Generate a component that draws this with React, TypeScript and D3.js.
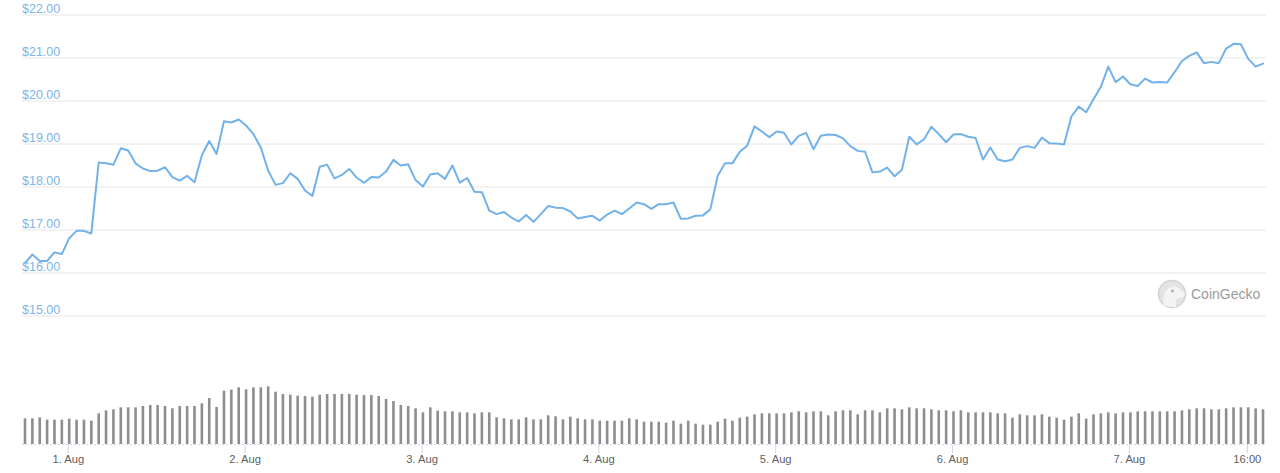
import React from "react";
import * as d3 from "d3";

// Hourly samples starting 31 Jul 18:07 (UTC)
const startTime = Date.UTC(2021, 6, 31, 18, 7, 30);
const HOUR = 3600 * 1000;

const prices = [
  16.23, 16.43, 16.28, 16.28, 16.48, 16.44, 16.81, 16.98, 16.98, 16.92,
  18.57, 18.55, 18.52, 18.90, 18.85, 18.55, 18.43, 18.37, 18.38, 18.46,
  18.23, 18.15, 18.26, 18.11, 18.74, 19.07, 18.77, 19.53, 19.50, 19.57,
  19.43, 19.23, 18.92, 18.38, 18.05, 18.09, 18.32, 18.19, 17.92, 17.79,
  18.47, 18.52, 18.20, 18.28, 18.42, 18.22, 18.10, 18.23, 18.22, 18.36,
  18.63, 18.50, 18.53, 18.16, 18.01, 18.29, 18.32, 18.19, 18.50, 18.10,
  18.21, 17.89, 17.88, 17.45, 17.37, 17.42, 17.29, 17.20, 17.35, 17.19,
  17.37, 17.56, 17.52, 17.51, 17.43, 17.27, 17.30, 17.33, 17.22, 17.36,
  17.45, 17.37, 17.50, 17.64, 17.60, 17.49, 17.60, 17.60, 17.64, 17.26,
  17.27, 17.33, 17.34, 17.48, 18.26, 18.55, 18.55, 18.82, 18.96, 19.41,
  19.29, 19.16, 19.29, 19.26, 18.99, 19.19, 19.26, 18.88, 19.19, 19.22,
  19.21, 19.13, 18.95, 18.84, 18.82, 18.34, 18.36, 18.45, 18.25, 18.40,
  19.17, 18.99, 19.11, 19.40, 19.23, 19.04, 19.22, 19.23, 19.17, 19.14,
  18.64, 18.92, 18.64, 18.60, 18.64, 18.91, 18.95, 18.91, 19.15, 19.02,
  19.01, 18.99, 19.64, 19.87, 19.74, 20.04, 20.33, 20.80, 20.44, 20.57,
  20.39, 20.35, 20.52, 20.43, 20.44, 20.43, 20.67, 20.93, 21.05, 21.13,
  20.88, 20.91, 20.88, 21.22, 21.33, 21.32, 20.98, 20.80, 20.87,
];

// Volume (millions, approx.)
const volumes = [
  77, 77, 80, 73, 73, 73, 76, 73, 73, 70,
  92, 101, 104, 110, 110, 110, 114, 117, 117, 114,
  107, 114, 114, 114, 122, 138, 111, 160, 163, 170,
  164, 170, 170, 173, 157, 150, 148, 145, 144, 142,
  148, 150, 150, 150, 150, 148, 147, 147, 144, 135,
  129, 117, 114, 107, 95, 110, 100, 98, 98, 95,
  95, 92, 95, 95, 80, 77, 74, 74, 80, 74,
  74, 86, 83, 74, 82, 77, 74, 74, 70, 70,
  70, 70, 77, 74, 67, 67, 67, 64, 70, 61,
  70, 61, 58, 58, 67, 76, 70, 79, 82, 89,
  92, 92, 92, 92, 95, 98, 95, 98, 98, 86,
  98, 101, 101, 89, 101, 101, 95, 107, 107, 104,
  110, 107, 107, 104, 101, 101, 98, 101, 95, 95,
  95, 95, 92, 92, 79, 89, 86, 86, 89, 82,
  79, 73, 82, 92, 76, 89, 92, 95, 92, 95,
  95, 98, 98, 98, 98, 98, 98, 101, 104, 107,
  107, 104, 104, 107, 110, 110, 110, 107, 104,
];

const priceTicks = [15, 16, 17, 18, 19, 20, 21, 22];

const xTickLabels = ["1. Aug", "2. Aug", "3. Aug", "4. Aug", "5. Aug", "6. Aug", "7. Aug", "16:00"];
const xTickTimes = [
  Date.UTC(2021, 7, 1), Date.UTC(2021, 7, 2), Date.UTC(2021, 7, 3), Date.UTC(2021, 7, 4),
  Date.UTC(2021, 7, 5), Date.UTC(2021, 7, 6), Date.UTC(2021, 7, 7), Date.UTC(2021, 7, 7, 16),
];

const W = 1280;
const H = 473;

export default function App() {
  const times = prices.map((_, i) => startTime + i * HOUR);
  const x = d3
    .scaleUtc()
    .domain([startTime, startTime + (prices.length - 1) * HOUR])
    .range([25, 1263]);
  const y = d3.scaleLinear().domain([15, 22]).range([316, 15]);
  const yv = d3.scaleLinear().domain([0, 180]).range([444, 384]);

  const line = d3
    .line<number>()
    .x((_, i) => x(times[i]))
    .y((d) => y(d));

  const font = "'Liberation Sans', Arial, Helvetica, sans-serif";

  return (
    <svg
      width={W}
      height={H}
      style={{ position: "absolute", left: 0, top: 0, background: "#fff" }}
    >
      {/* grid + y labels */}
      {priceTicks.map((t) => (
        <g key={t}>
          <line x1={22} x2={1266} y1={y(t)} y2={y(t)} stroke="#e6e6e6" strokeWidth={1} />
          <text x={22} y={y(t) - 2.5} fontFamily={font} fontSize={12.5} fill="#7db5ea">
            {"$" + d3.format(".2f")(t)}
          </text>
        </g>
      ))}

      {/* volume bars */}
      {volumes.map((v, i) => (
        <rect
          key={i}
          x={x(times[i]) - 1.3}
          y={yv(v)}
          width={2.6}
          height={yv(0) - yv(v)}
          fill="#8e8e8e"
        />
      ))}

      {/* baseline */}
      <line x1={22} x2={1266} y1={444.5} y2={444.5} stroke="#ccd6eb" strokeDasharray="2,2" />

      {/* x ticks */}
      {xTickTimes.map((t, i) => (
        <g key={i}>
          <line x1={x(t)} x2={x(t)} y1={445} y2={453} stroke="#ccd6eb" strokeWidth={1} />
          <text
            x={x(t)}
            y={463}
            textAnchor="middle"
            fontFamily={font}
            fontSize={11.2}
            fill="#5f5f5f"
          >
            {xTickLabels[i]}
          </text>
        </g>
      ))}

      {/* price line */}
      <path
        d={line(prices) || ""}
        fill="none"
        stroke="#72b1ea"
        strokeWidth={2}
        strokeLinejoin="round"
        strokeLinecap="round"
      />

      {/* CoinGecko watermark */}
      <g>
        <circle cx={1172} cy={294} r={13.5} fill="#e4e4e4" stroke="#d4d4d4" strokeWidth={1.5} />
        <path
          d="M1164,306 C1162,297 1165,288 1172,287 C1177,286 1180,289 1182,291 C1185,292 1186,295 1183,297 C1180,298 1177,297 1176,300 L1176,307 Z"
          fill="#f4f4f4"
        />
        <circle cx={1172.5} cy={291} r={1.4} fill="#a8a8a8" />
        <text x={1191} y={299} fontFamily={font} fontSize={14} fill="#9a9a9a">
          CoinGecko
        </text>
      </g>
    </svg>
  );
}
